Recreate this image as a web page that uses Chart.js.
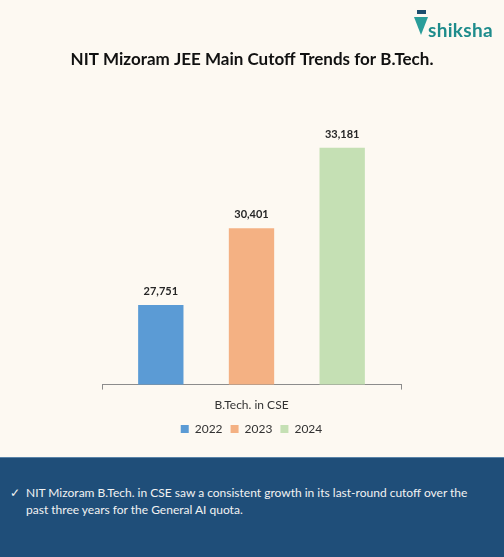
<!DOCTYPE html>
<html>
<head>
<meta charset="utf-8">
<script src="https://cdn.jsdelivr.net/npm/chart.js@4"></script>
<style>
  body { margin: 0; background: #FDF9F2; font-family: Lato, sans-serif; }
  #wrap { position: relative; width: 504px; height: 557px; overflow: hidden; }
  #chartBox { position: absolute; left: 0; top: 0; width: 504px; height: 457px; }
  #logo { position: absolute; left: 411px; top: 6px; height: 36px; color: #1E8C8C; font: bold 19px Lato, sans-serif; }
  #logo .v { position: absolute; left: 3px; top: 11px; width: 0; height: 0;
    border-left: 7px solid transparent; border-right: 7px solid transparent; border-top: 18px solid #2A9D9A; }
  #logo .cap { position: absolute; left: 6px; top: 4px; width: 9px; height: 4px; background: #1C4E6E; }
  #logo .t { position: absolute; left: 17px; top: 12px; letter-spacing: 0.3px; }
  #note { position: absolute; left: 0; top: 457px; width: 504px; height: 100px; background: #1F4E79;
    border-top: 1px solid #5A84A8; box-sizing: border-box; color: #F2F2F2; font: 12px Lato, sans-serif; }
  #note p { margin: 0; position: absolute; left: 26px; top: 26px; width: 462px; line-height: 17px; }
  #note .ck { position: absolute; left: 10px; top: 26px; line-height: 17px; }
</style>
</head>
<body>
<div id="wrap">
  <div id="chartBox"><canvas id="myChart"></canvas></div>
  <div id="logo"><div class="cap"></div><div class="v"></div><div class="t">shiksha</div></div>
  <div id="note">
    <span class="ck">&#10003;</span>
    <p>NIT Mizoram B.Tech. in CSE saw a consistent growth in its last-round cutoff over the past three years for the General AI quota.</p>
  </div>
</div>
<script>
const chartTitle = 'NIT Mizoram JEE Main Cutoff Trends for B.Tech.';
const categories = ['B.Tech. in CSE'];
const years = ['2022', '2023', '2024'];
const cutoffs = [27751, 30401, 33181];
const colors = ['#5B9BD5', '#F4B183', '#C5E0B4'];

// Draw value labels above each bar
const valueLabels = {
  id: 'valueLabels',
  afterDatasetsDraw(chart) {
    const ctx = chart.ctx;
    ctx.save();
    ctx.font = 'bold 11px Lato, sans-serif';
    ctx.fillStyle = '#262626';
    ctx.textAlign = 'center';
    ctx.textBaseline = 'bottom';
    chart.data.datasets.forEach((ds, i) => {
      chart.getDatasetMeta(i).data.forEach((bar, j) => {
        ctx.fillText(ds.data[j].toLocaleString('en-US'), bar.x, bar.y - 8);
      });
    });
    ctx.restore();
  }
};

// Title drawn across the full canvas width (the built-in one is squeezed by side padding)
const wideTitle = {
  id: 'wideTitle',
  afterDraw(chart) {
    const ctx = chart.ctx;
    ctx.save();
    ctx.font = 'bold 17px Lato, sans-serif';
    ctx.fillStyle = '#111';
    ctx.textAlign = 'center';
    ctx.textBaseline = 'middle';
    ctx.fillText(chartTitle, chart.width / 2, 60);
    ctx.restore();
  }
};

const chart = new Chart(document.getElementById('myChart'), {
  type: 'bar',
  data: {
    labels: categories,
    datasets: years.map((y, i) => ({
      label: y,
      data: [cutoffs[i]],
      backgroundColor: colors[i],
      barPercentage: 0.5,
      categoryPercentage: 0.91
    }))
  },
  options: {
    responsive: true,
    maintainAspectRatio: false,
    animation: false,
    layout: { padding: { left: 102, right: 103, top: 95, bottom: 12 } },
    plugins: {
      title: { display: false },
      legend: {
        position: 'bottom',
        labels: {
          boxWidth: 8, boxHeight: 8, padding: 8,
          color: '#333',
          font: { family: 'Lato', size: 12 }
        }
      },
      tooltip: { enabled: false }
    },
    scales: {
      x: {
        afterFit(scale) { scale.height -= 5; },
        grid: { display: true, offset: true, drawOnChartArea: false, tickLength: 5, color: '#8C8C8C' },
        border: { display: true, color: '#8C8C8C', width: 1 },
        ticks: { color: '#333', font: { family: 'Lato', size: 12 }, padding: 8 }
      },
      y: {
        display: false,
        min: 25000,
        max: 35000
      }
    }
  },
  plugins: [valueLabels, wideTitle]
});
</script>
</body>
</html>
